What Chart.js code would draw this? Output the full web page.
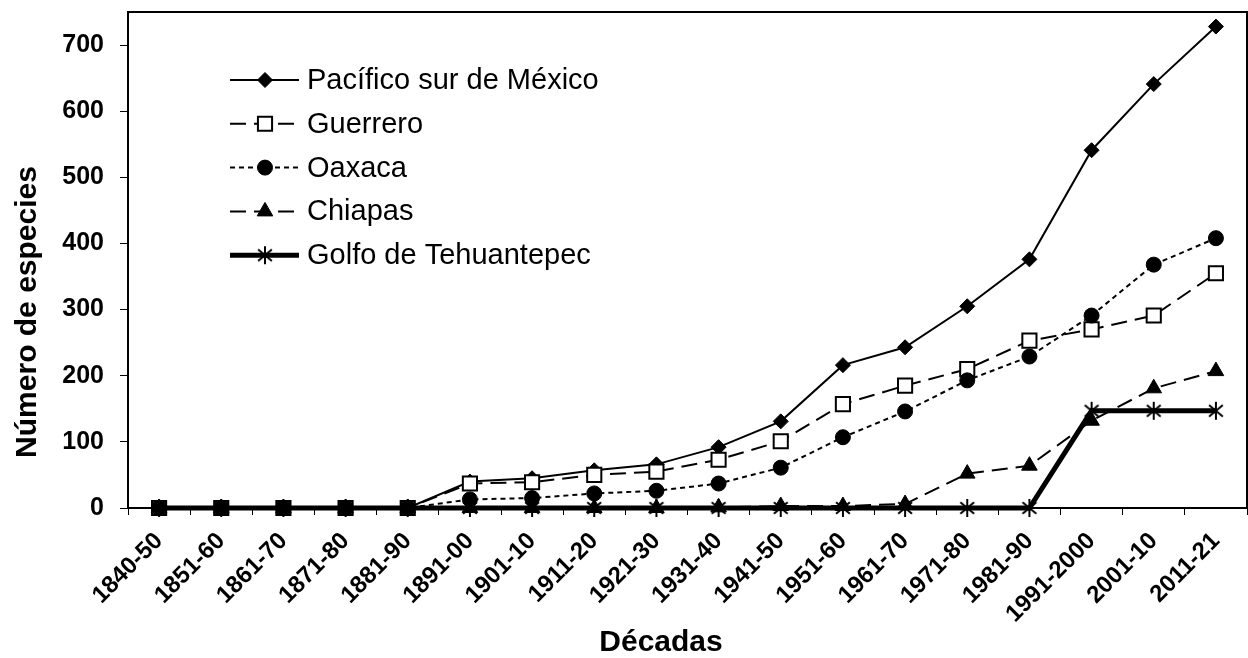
<!DOCTYPE html>
<html>
<head>
<meta charset="utf-8">
<script src="https://cdn.jsdelivr.net/npm/chart.js@4/dist/chart.umd.min.js"></script>
<style>
  html, body { margin: 0; padding: 0; background: #fff; }
  #wrap { width: 1248px; height: 658px; }
</style>
</head>
<body>
<div id="wrap"><canvas id="grafica" width="1248" height="658"></canvas></div>
<script>
const decadas = ['1840-50', '1851-60', '1861-70', '1871-80', '1881-90', '1891-00', '1901-10', '1911-20', '1921-30',
    '1931-40', '1941-50', '1951-60', '1961-70', '1971-80', '1981-90', '1991-2000', '2001-10', '2011-21'];
const pacifico = [0, 0, 0, 0, 0, 40, 45, 57, 66, 92, 131, 216, 243, 305, 376, 541, 641, 728];
const guerrero = [0, 0, 0, 0, 0, 37, 39, 50, 55, 73, 101, 157, 185, 210, 253, 270, 291, 355];
const oaxaca = [0, 0, 0, 0, 0, 13, 15, 22, 26, 37, 61, 107, 146, 193, 229, 291, 368, 408];
const chiapas = [0, 0, 0, 0, 0, 0, 0, 0, 0, 1, 3, 3, 6, 52, 64, 132, 181, 207];
const golfo = [0, 0, 0, 0, 0, 0, 0, 0, 0, 0, 0, 0, 0, 0, 0, 147, 147, 147];
const yTicks = [0, 100, 200, 300, 400, 500, 600, 700];
const yMax = 750;
const tituloX = 'Décadas';
const tituloY = 'Número de especies';

const fuente = '"Liberation Sans", Arial, sans-serif';
Chart.defaults.font.family = fuente;
Chart.defaults.color = '#000';

// asterisco de 6 brazos como en Excel
function hacerAsterisco(size) {
    const c = document.createElement('canvas');
    c.width = size;
    c.height = size;
    const g = c.getContext('2d');
    const m = size / 2, r = size / 2 - 1;
    g.strokeStyle = '#000';
    g.lineWidth = 2;
    g.beginPath();
    g.moveTo(m, m - r); g.lineTo(m, m + r);
    const a = 40 * Math.PI / 180;
    g.moveTo(m - r * Math.cos(a), m - r * Math.sin(a)); g.lineTo(m + r * Math.cos(a), m + r * Math.sin(a));
    g.moveTo(m - r * Math.cos(a), m + r * Math.sin(a)); g.lineTo(m + r * Math.cos(a), m - r * Math.sin(a));
    g.stroke();
    return c;
}
const asterisco = hacerAsterisco(20);

function serie(label, data, estilo, orden) {
    return Object.assign({
        label: label,
        data: data,
        borderColor: '#000',
        pointBorderColor: '#000',
        pointBackgroundColor: '#000',
        pointBorderWidth: 1,
        tension: 0,
        clip: false,
        order: orden
    }, estilo);
}

const datasets = [
    serie('Pacífico sur de México', pacifico, { borderWidth: 2, pointStyle: 'rectRot', pointRadius: 7.5 }, 4),
    serie('Guerrero', guerrero, { borderWidth: 2, borderDash: [16, 8], pointStyle: 'rect', pointRadius: 10,
        pointBackgroundColor: '#fff', pointBorderWidth: 2 }, 3),
    serie('Oaxaca', oaxaca, { borderWidth: 2, borderDash: [5, 4], pointStyle: 'circle', pointRadius: 7.5 }, 2),
    serie('Chiapas', chiapas, { borderWidth: 2, borderDash: [16, 8], pointStyle: 'triangle', pointRadius: 9 }, 1),
    serie('Golfo de Tehuantepec', golfo, { borderWidth: 5, pointStyle: asterisco, pointRadius: 10 }, 0)
];

const bordePlugin = {
    id: 'borde',
    beforeDatasetsDraw(chart) {
        const a = chart.chartArea;
        const ctx = chart.ctx;
        ctx.save();
        ctx.strokeStyle = '#000';
        ctx.lineWidth = 2;
        ctx.strokeRect(a.left, a.top, a.right - a.left, a.bottom - a.top);
        ctx.restore();
    }
};

// titulos de los ejes, colocados como en la figura original
const titulosPlugin = {
    id: 'titulos',
    afterDraw(chart) {
        const ctx = chart.ctx;
        const a = chart.chartArea;
        ctx.save();
        ctx.fillStyle = '#000';
        ctx.font = 'bold 30px ' + fuente;
        ctx.textAlign = 'center';
        ctx.textBaseline = 'alphabetic';
        ctx.fillText(tituloX, a.left + 533, a.bottom + 143);
        ctx.translate(36, a.top + 300);
        ctx.rotate(-Math.PI / 2);
        ctx.fillText(tituloY, 0, 0);
        ctx.restore();
    }
};

const leyendaPlugin = {
    id: 'leyenda',
    afterDraw(chart) {
        const ctx = chart.ctx;
        const a = chart.chartArea;
        const x0 = a.left + 102, x1 = a.left + 171, xm = a.left + 137, xt = a.left + 179;
        chart.data.datasets.forEach((ds, i) => {
            const y = a.top + 68 + i * 43.8;
            ctx.save();
            ctx.strokeStyle = '#000';
            ctx.lineWidth = ds.borderWidth;
            ctx.setLineDash(ds.borderDash || []);
            ctx.beginPath();
            ctx.moveTo(x0, y);
            ctx.lineTo(x1, y);
            ctx.stroke();
            ctx.setLineDash([]);
            ctx.fillStyle = ds.pointBackgroundColor;
            ctx.strokeStyle = '#000';
            ctx.lineWidth = ds.pointBorderWidth;
            Chart.helpers.drawPoint(ctx, {
                pointStyle: ds.pointStyle,
                radius: ds.pointRadius,
                borderWidth: ds.pointBorderWidth,
                rotation: 0
            }, xm, y);
            ctx.fillStyle = '#000';
            ctx.font = '29px ' + fuente;
            ctx.textBaseline = 'middle';
            ctx.textAlign = 'left';
            ctx.fillText(ds.label, xt, y + 1);
            ctx.restore();
        });
    }
};

const ctx = document.getElementById('grafica').getContext('2d');
const grafica = new Chart(ctx, {
    type: 'line',
    data: { labels: decadas, datasets: datasets },
    options: {
        responsive: false,
        animation: false,
        layout: { autoPadding: false, padding: { top: 12, right: 1, left: 0, bottom: 0 } },
        plugins: {
            legend: { display: false },
            tooltip: { enabled: false }
        },
        scales: {
            x: {
                offset: true,
                grid: { drawOnChartArea: false, offset: true, tickLength: 7, color: '#000', lineWidth: 1 },
                border: { color: '#000', width: 2 },
                ticks: {
                    color: '#000',
                    autoSkip: false,
                    maxRotation: 45,
                    minRotation: 45,
                    padding: 12,
                    font: { size: 24, weight: 'bold' }
                },
                afterFit: function (scale) {
                    scale.height = 150;
                    scale.paddingLeft = 0;
                    scale.paddingRight = 0;
                }
            },
            y: {
                min: 0,
                max: yMax,
                grid: { drawOnChartArea: false, tickLength: 8, color: '#000', lineWidth: 1 },
                border: { color: '#000', width: 2 },
                ticks: {
                    color: '#000',
                    stepSize: 100,
                    padding: 16,
                    font: { size: 25, weight: 'bold' }
                },
                afterBuildTicks: function (scale) {
                    scale.ticks = yTicks.map(v => ({ value: v }));
                },
                afterFit: function (scale) {
                    scale.width = 128;
                    scale.paddingTop = 0;
                    scale.paddingBottom = 0;
                }
            }
        }
    },
    plugins: [bordePlugin, leyendaPlugin, titulosPlugin]
});
</script>
</body>
</html>
